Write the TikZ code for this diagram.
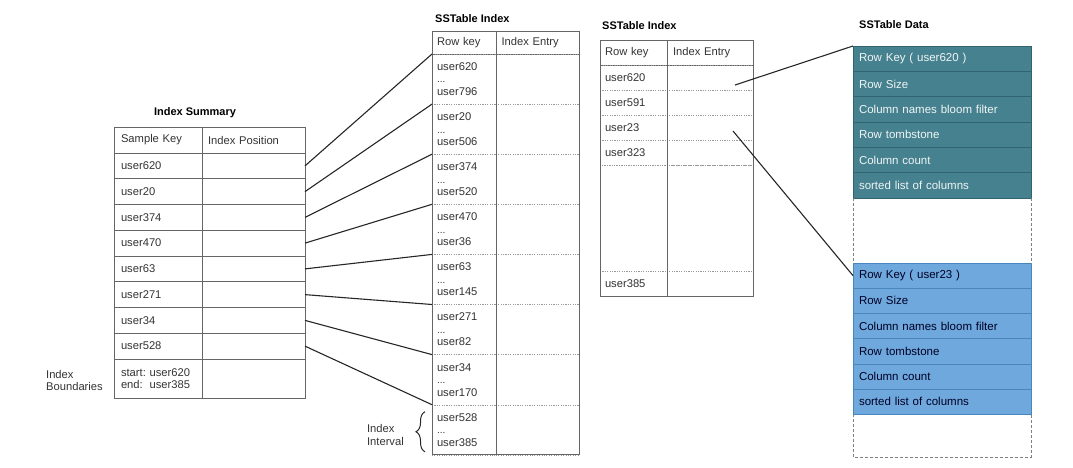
\documentclass[tikz,border=0pt]{standalone}
\usepackage{fontspec}
\setmainfont{Liberation Sans}
\usetikzlibrary{positioning}
\usetikzlibrary{decorations.pathreplacing}

\definecolor{gridline}{HTML}{666666}
\definecolor{tealfill}{HTML}{45818E}
\definecolor{tealedge}{HTML}{2F6470}
\definecolor{bluefill}{HTML}{6FA8DC}
\definecolor{blueedge}{HTML}{4A86BE}

\newcommand{\gap}{{\fontsize{10}{12.5}\selectfont ...}}

\begin{document}
\begin{tikzpicture}[x=1pt, y=-1pt, node distance=0pt,
  cell/.style={inner ysep=0pt, outer sep=0pt, align=left, text=black!80, font=\fontsize{11.2}{12.5}\selectfont},
  skey/.style={cell, draw=gridline, line width=0.9pt, text width=74pt, inner xsep=7pt, minimum height=25.75pt},
  spos/.style={cell, draw=gridline, line width=0.9pt, text width=91pt, inner xsep=6pt, minimum height=25.75pt}]
\tikzstyle{ikey}=[cell, draw=black!40, dotted, text width=54pt, inner xsep=5pt, minimum height=50.1pt]
\tikzstyle{ient}=[cell, draw=black!40, dotted, text width=72pt, inner xsep=5.5pt, minimum height=50.1pt]
\tikzstyle{jkey}=[cell, draw=black!40, dotted, text width=57pt, inner xsep=5pt, minimum height=25pt]
\tikzstyle{jent}=[cell, draw=black!40, dotted, text width=74pt, inner xsep=6pt, minimum height=25pt]
\tikzstyle{head}=[solid, draw=gridline, line width=0.9pt]
\tikzstyle{datateal}=[cell, font=\fontsize{11.5}{13}\selectfont, fill=tealfill, draw=tealedge, line width=0.6pt, text=white!92!tealfill, text width=166pt, inner xsep=6pt, minimum height=25.33pt]
\tikzstyle{datablue}=[datateal, fill=bluefill, draw=blueedge, text=black!85!blue, minimum height=25.2pt]
\tikzstyle{frame}=[draw=gridline, line width=0.9pt]
\tikzstyle{link}=[draw=black!85, line width=1.1pt]
\tikzstyle{dashframe}=[draw=black!50, densely dashed, line width=0.8pt]
\tikzstyle{title}=[font=\bfseries\fontsize{11}{13}\selectfont, inner sep=0pt]
\tikzstyle{note}=[inner sep=0pt, align=left, text=black!80, font=\fontsize{11.2}{12.5}\selectfont]
\tikzstyle{brace}=[decorate, decoration={brace, amplitude=9pt}, draw=black!85, line width=1pt]

\useasboundingbox (0,0) rectangle (1073,467);

% index summary
\node (sk0) [skey, minimum height=26pt, anchor=north west] at (114,127) {Sample Key};
\node (sp0) [spos, minimum height=26pt, right=of sk0] {Index Position};
\node (sk1) [skey, below=of sk0] {user620};
\node (sp1) [spos, right=of sk1] {};
\node (sk2) [skey, below=of sk1] {user20};
\node (sp2) [spos, right=of sk2] {};
\node (sk3) [skey, below=of sk2] {user374};
\node (sp3) [spos, right=of sk3] {};
\node (sk4) [skey, below=of sk3] {user470};
\node (sp4) [spos, right=of sk4] {};
\node (sk5) [skey, below=of sk4] {user63};
\node (sp5) [spos, right=of sk5] {};
\node (sk6) [skey, below=of sk5] {user271};
\node (sp6) [spos, right=of sk6] {};
\node (sk7) [skey, below=of sk6] {user34};
\node (sp7) [spos, right=of sk7] {};
\node (sk8) [skey, below=of sk7] {user528};
\node (sp8) [spos, right=of sk8] {};
\node (sk9) [skey, minimum height=39pt, below=of sk8] {start:\ user620\\\leavevmode\rlap{end:}\hphantom{start:}\ user385};
\node (sp9) [spos, minimum height=39pt, right=of sk9] {};

\node (sumtitle) [title, above=9pt of sp0.north west, xshift=-7pt] {Index Summary};
\node (bounds) [note, left=11pt of sk9, yshift=-2pt] {Index\\Boundaries};

% sstable index, intervals
\node (ik0) [ikey, head, minimum height=23pt, anchor=north west] at (432,31) {Row key};
\node (ie0) [ient, head, minimum height=23pt, right=of ik0] {Index Entry};
\node (ik1) [ikey, below=of ik0] {user620\\\gap\\user796};
\node (ie1) [ient, right=of ik1] {};
\node (ik2) [ikey, below=of ik1] {user20\\\gap\\user506};
\node (ie2) [ient, right=of ik2] {};
\node (ik3) [ikey, below=of ik2] {user374\\\gap\\user520};
\node (ie3) [ient, right=of ik3] {};
\node (ik4) [ikey, below=of ik3] {user470\\\gap\\user36};
\node (ie4) [ient, right=of ik4] {};
\node (ik5) [ikey, below=of ik4] {user63\\\gap\\user145};
\node (ie5) [ient, right=of ik5] {};
\node (ik6) [ikey, below=of ik5] {user271\\\gap\\user82};
\node (ie6) [ient, right=of ik6] {};
\node (ik7) [ikey, below=of ik6] {user34\\\gap\\user170};
\node (ie7) [ient, right=of ik7] {};
\node (ik8) [ikey, below=of ik7] {user528\\\gap\\user385};
\node (ie8) [ient, right=of ik8] {};
\draw [frame] (ik0.north west) rectangle (ie8.south east);
\draw [frame] (ik0.north east) -- (ik8.south east);

\node (idxtitle) [title, above right=8pt and 3pt of ik0.north west] {SSTable Index};
\draw [brace] ([xshift=-7pt,yshift=3pt]ik8.south west) -- ([xshift=-7pt,yshift=-7pt]ik8.north west);
\node (interval) [note, left=28pt of ik8.west, yshift=-5pt] {Index\\Interval};

% sstable index, all keys
\node (jk0) [jkey, head, anchor=north west] at (600,40) {Row key};
\node (je0) [jent, head, right=of jk0] {Index Entry};
\node (jk1) [jkey, below=of jk0] {user620};
\node (je1) [jent, right=of jk1] {};
\node (jk2) [jkey, below=of jk1] {user591};
\node (je2) [jent, right=of jk2] {};
\node (jk3) [jkey, below=of jk2] {user23};
\node (je3) [jent, right=of jk3] {};
\node (jk4) [jkey, below=of jk3] {user323};
\node (je4) [jent, right=of jk4] {};
\node (jk5) [jkey, minimum height=106pt, below=of jk4] {};
\node (je5) [jent, minimum height=106pt, right=of jk5] {};
\node (jk6) [jkey, below=of jk5] {user385};
\node (je6) [jent, right=of jk6] {};
\draw [frame] (jk0.north west) rectangle (je6.south east);
\draw [frame] (jk0.north east) -- (jk6.south east);

\node (fulltitle) [title, above right=10pt and 2pt of jk0.north west] {SSTable Index};

% sstable data
\node (d1) [datateal, anchor=north west] at (853,46) {Row Key ( user620 )};
\node (d2) [datateal, below=of d1] {Row Size};
\node (d3) [datateal, below=of d2] {Column names bloom filter};
\node (d4) [datateal, below=of d3] {Row tombstone};
\node (d5) [datateal, below=of d4] {Column count};
\node (d6) [datateal, below=of d5] {sorted list of columns};
\node (e1) [datablue, anchor=north west] at (853,263) {Row Key ( user23 )};
\node (e2) [datablue, below=of e1] {Row Size};
\node (e3) [datablue, below=of e2] {Column names bloom filter};
\node (e4) [datablue, below=of e3] {Row tombstone};
\node (e5) [datablue, below=of e4] {Column count};
\node (e6) [datablue, below=of e5] {sorted list of columns};
\draw [dashframe] (d6.south west) -- (e1.north west);
\draw [dashframe] (d6.south east) -- (e1.north east);
\draw [dashframe] (e6.south west) -- ++(0,43) -| (e6.south east);

\node (datatitle) [title, above right=17pt and 6pt of d1.north west] {SSTable Data};

% links
\draw [link] (sp1.east) -- (ik1.north west);
\draw [link] (sp2.east) -- (ik2.north west);
\draw [link] (sp3.east) -- (ik3.north west);
\draw [link] (sp4.east) -- (ik4.north west);
\draw [link] (sp5.east) -- (ik5.north west);
\draw [link] (sp6.east) -- (ik6.north west);
\draw [link] (sp7.east) -- (ik7.north west);
\draw [link] (sp8.east) -- (ik8.north west);
\draw [link] ([xshift=-18pt,yshift=5pt]je1.south east) -- (d1.north west);
\draw [link] ([xshift=-20pt,yshift=9pt]je3.south east) -- (e1.west);
\end{tikzpicture}
\end{document}
